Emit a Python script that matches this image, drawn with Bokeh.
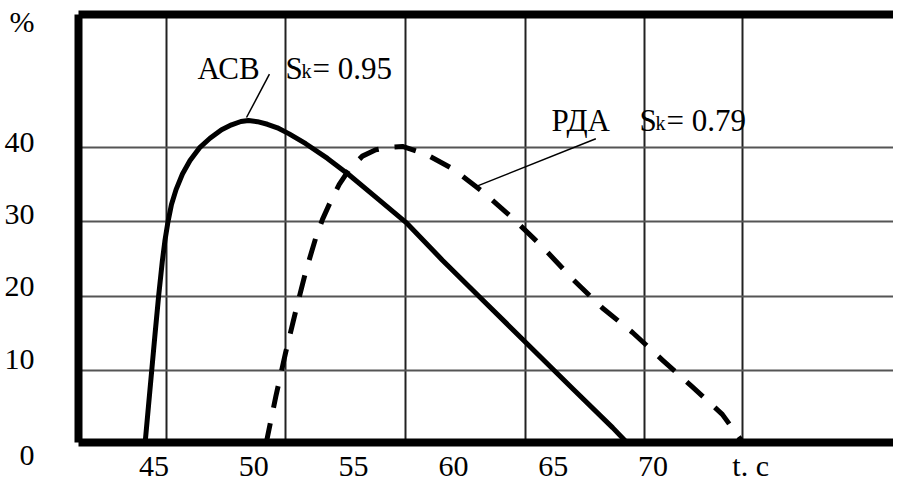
from bokeh.plotting import figure
from bokeh.models import FixedTicker, LinearAxis, Label
from bokeh.embed import file_html
from bokeh.resources import INLINE

# ---- data ----
acb_t = [44.54, 44.72, 44.88, 45.05, 45.23, 45.41, 45.54, 45.69, 45.87, 46.10, 46.42, 46.80,
         47.27, 47.80, 48.38, 48.88, 49.35, 49.73, 50.18, 50.68, 51.18, 51.77, 52.60, 53.69,
         54.78, 56.20, 57.62, 59.45, 61.29, 63.63, 65.97, 67.98, 68.81]
acb_v = [0, 5.3, 10.0, 15.0, 20.1, 24.65, 27.4, 29.9, 32.3, 34.3, 36.4, 38.2,
         39.9, 41.2, 42.35, 43.0, 43.45, 43.6, 43.43, 43.08, 42.6, 41.79, 40.47, 38.49,
         36.26, 33.09, 29.9, 24.82, 19.95, 13.76, 7.58, 2.32, 0]

rda_t = [50.60, 51.10, 51.60, 52.10, 52.60, 53.10, 53.44, 53.86, 54.28, 54.78, 55.44, 56.11,
         56.78, 57.45, 58.60, 59.96, 61.46, 62.96, 64.47, 65.97, 67.47, 68.98, 70.48, 71.98,
         73.48, 74.59]
rda_v = [0, 6.5, 12.5, 18.0, 23.3, 27.8, 30.3, 32.8, 35.0, 37.0, 38.8, 39.65,
         40.0, 40.1, 39.1, 37.1, 34.05, 30.5, 26.6, 22.3, 18.4, 15.1, 11.4, 7.8,
         4.1, 0]

x_ticks = [45, 50, 55, 60, 65, 70]
x_unit_tick = 74.9
x_unit_label = "t. c"
y_ticks = [10, 20, 30, 40]
y_unit_label = "%"
y_zero_label = "0"
grid_x = [45.62, 51.59, 57.60, 63.62, 69.58, 74.49]

acb_name, acb_sk = "АСВ", "= 0.95"
rda_name, rda_sk = "РДА", "= 0.79"

# annotation anchors (data coords)
acb_label_pos = (47.17, 50.64)
rda_label_pos = (64.92, 43.59)
acb_leader = ([50.78, 49.63], [49.81, 43.99])
rda_leader = ([67.14, 61.12], [41.14, 34.70])

FONT = "Liberation Serif"
FS = "30px"
FS_NOTE = "31px"

p = figure(width=893, height=484, x_range=(41.21, 82.06), y_range=(0.32, 57.83),
           output_backend="svg", toolbar_location=None,
           min_border_left=78, min_border_right=0, min_border_top=14, min_border_bottom=40,
           outline_line_color=None, background_fill_color="white", border_fill_color="white")

# grids
p.xgrid.ticker = FixedTicker(ticks=grid_x)
p.ygrid.ticker = FixedTicker(ticks=y_ticks)
p.xgrid.grid_line_color = "#222222"
p.xgrid.grid_line_width = 2
p.ygrid.grid_line_color = "#555555"
p.ygrid.grid_line_width = 2

# axes
for ax in [p.xaxis[0], p.yaxis[0]]:
    ax.axis_line_width = 8
    ax.axis_line_color = "black"
    ax.major_tick_out = 0
    ax.major_tick_in = 0
    ax.minor_tick_out = 0
    ax.minor_tick_in = 0
    ax.major_label_text_font = FONT
    ax.major_label_text_font_size = FS
    ax.major_label_text_color = "black"

p.xaxis.ticker = FixedTicker(ticks=x_ticks + [x_unit_tick])
p.xaxis.major_label_overrides = {x_unit_tick: x_unit_label}
p.xaxis.major_label_standoff = 6

# y axis: only its thick line; the values are written in the left margin column below
p.yaxis.ticker = FixedTicker(ticks=[])
p.yaxis.major_label_standoff = 0

top = LinearAxis(ticker=FixedTicker(ticks=[]), axis_line_width=8, axis_line_color="black",
                 major_tick_out=0, major_tick_in=0, minor_tick_out=0, minor_tick_in=0,
                 major_label_standoff=0)
p.add_layout(top, "above")

# curves
p.line(acb_t, acb_v, line_color="black", line_width=5, line_join="round")
p.line(rda_t, rda_v, line_color="black", line_width=5, line_dash="22 16", line_join="round")

# leader lines
p.line(acb_leader[0], acb_leader[1], line_color="black", line_width=1.5)
p.line(rda_leader[0], rda_leader[1], line_color="black", line_width=1.5)

def add_label(pos, name, sk):
    x, y = pos
    common = dict(x=x, y=y, text_font=FONT, text_color="black",
                  text_baseline="alphabetic", text_align="left")
    p.add_layout(Label(text=name, text_font_size=FS_NOTE, **common))
    p.add_layout(Label(text="S", text_font_size=FS_NOTE, x_offset=88, **common))
    p.add_layout(Label(text="k", text_font_size="20px", x_offset=104, y_offset=-3, **common))
    p.add_layout(Label(text=sk, text_font_size=FS_NOTE, x_offset=115, **common))

add_label(acb_label_pos, acb_name, acb_sk)
add_label(rda_label_pos, rda_name, rda_sk)

# left margin column: unit, y tick values (top to bottom) and zero, one text per row
rows = {0: y_unit_label, 18: y_zero_label}
for v in y_ticks:
    rows[5 + (40 - v) // 10 * 3] = str(v)
column_text = "\n".join(rows.get(i, "") for i in range(19))
p.add_layout(Label(x=34, y=4, x_units="canvas", y_units="canvas", text=column_text,
                   text_font=FONT, text_font_size=FS, text_align="right",
                   text_baseline="top", text_line_height=0.73, text_color="black"), "left")

open("out.html", "w").write(file_html(p, INLINE))
